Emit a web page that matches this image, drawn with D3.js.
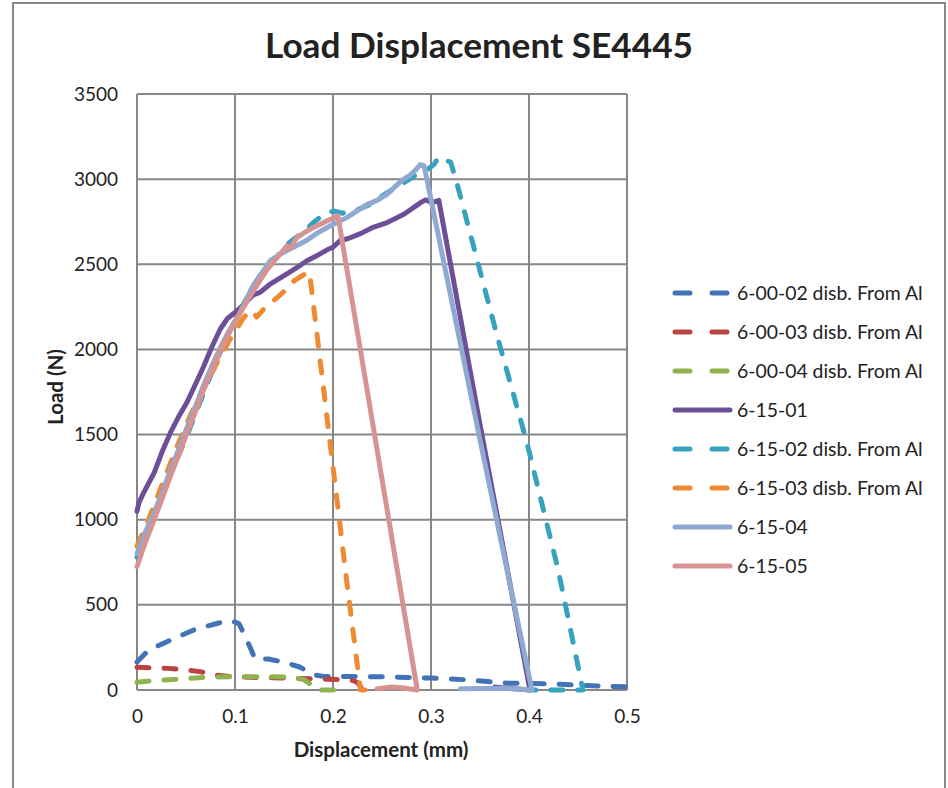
<!DOCTYPE html>
<html>
<head>
<meta charset="utf-8">
<script src="https://cdn.jsdelivr.net/npm/d3@7"></script>
<style>
  html, body { margin: 0; padding: 0; background: #ffffff; }
  svg { display: block; }
  text { font-family: Lato, "Open Sans", sans-serif; fill: #222; }
</style>
</head>
<body>
<svg id="chart" width="948" height="788"></svg>
<script>
// Load–displacement traces, [displacement (mm), load (N)]
const s600_02 = [[0,165],[0.012,235],[0.03,282],[0.06,358],[0.088,400],[0.097,405],[0.104,390],[0.11,320],[0.117,230],[0.12,185],[0.134,182],[0.151,162],[0.166,135],[0.18,90],[0.19,80],[0.25,78],[0.3,70],[0.34,59],[0.373,41],[0.424,35],[0.475,23],[0.5,18]];
const s600_03 = [[0,133],[0.015,130],[0.032,127],[0.05,118],[0.064,108],[0.08,88],[0.098,78],[0.125,73],[0.159,69],[0.195,63],[0.215,60],[0.221,55],[0.226,39],[0.229,10],[0.232,0]];
const s600_04 = [[0,45],[0.01,52],[0.025,58],[0.045,64],[0.07,75],[0.1,78],[0.14,78],[0.16,74],[0.17,62],[0.176,39],[0.18,10],[0.183,0],[0.21,0]];
const s615_01 = [[0,1050],[0.002,1100],[0.006,1150],[0.0175,1275],[0.025,1390],[0.034,1510],[0.042,1600],[0.051,1690],[0.06,1800],[0.068,1900],[0.076,2010],[0.085,2120],[0.092,2180],[0.1017,2225],[0.11,2270],[0.1185,2320],[0.1256,2335],[0.135,2380],[0.153,2444],[0.163,2480],[0.1734,2521],[0.185,2555],[0.194,2585],[0.2,2600],[0.2075,2640],[0.215,2650],[0.228,2680],[0.24,2715],[0.2553,2745],[0.2724,2794],[0.2894,2862],[0.2945,2878],[0.3014,2862],[0.308,2875],[0.35,1560],[0.401,0],[0.378,10],[0.365,18]];
const s615_02 = [[0,780],[0.01,920],[0.02,1060],[0.035,1280],[0.05,1480],[0.065,1700],[0.08,1920],[0.095,2110],[0.11,2280],[0.125,2430],[0.137,2510],[0.1427,2541],[0.1495,2599],[0.16,2648],[0.17,2690],[0.18,2745],[0.19,2790],[0.2007,2813],[0.21,2800],[0.221,2810],[0.238,2852],[0.255,2920],[0.272,2979],[0.283,3018],[0.29,3040],[0.297,3060],[0.303,3086],[0.308,3130],[0.315,3110],[0.32,3100],[0.3265,2975],[0.367,2090],[0.398,1450],[0.43,700],[0.455,0],[0.4,0]];
const s615_03 = [[0,845],[0.01,975],[0.0276,1235],[0.04,1420],[0.055,1620],[0.07,1790],[0.085,1960],[0.095,2060],[0.1017,2120],[0.108,2180],[0.115,2228],[0.119,2220],[0.122,2190],[0.126,2215],[0.132,2255],[0.14,2290],[0.149,2335],[0.157,2390],[0.165,2420],[0.1734,2450],[0.176,2455],[0.214,640],[0.228,0],[0.245,2]];
const s615_04 = [[0,800],[0.008,920],[0.0175,1040],[0.026,1165],[0.034,1290],[0.043,1420],[0.051,1540],[0.06,1670],[0.068,1790],[0.077,1910],[0.085,2010],[0.093,2100],[0.1017,2180],[0.11,2270],[0.117,2360],[0.122,2405],[0.13,2470],[0.136,2521],[0.145,2555],[0.153,2580],[0.163,2610],[0.173,2640],[0.183,2680],[0.194,2716],[0.204,2745],[0.214,2774],[0.225,2815],[0.235,2852],[0.245,2875],[0.255,2910],[0.265,2965],[0.272,3000],[0.278,3020],[0.283,3045],[0.289,3086],[0.293,3078],[0.35,1470],[0.403,0],[0.374,10],[0.33,8]];
const s615_05 = [[0,725],[0.008,860],[0.0175,1000],[0.026,1130],[0.034,1255],[0.043,1385],[0.051,1510],[0.06,1640],[0.068,1765],[0.077,1885],[0.085,1990],[0.095,2110],[0.105,2210],[0.112,2280],[0.119,2346],[0.126,2410],[0.132,2463],[0.14,2520],[0.146,2560],[0.153,2609],[0.156,2590],[0.16,2630],[0.163,2657],[0.172,2690],[0.18,2716],[0.187,2735],[0.194,2755],[0.2,2770],[0.205,2785],[0.228,1996],[0.286,0],[0.272,12],[0.26,18],[0.245,8]];

const seriesNames = ["6-00-02 disb. From Al","6-00-03 disb. From Al","6-00-04 disb. From Al","6-15-01","6-15-02 disb. From Al","6-15-03 disb. From Al","6-15-04","6-15-05"];
const seriesData = [s600_02, s600_03, s600_04, s615_01, s615_02, s615_03, s615_04, s615_05];
const seriesColors = ["#4373B6","#B94441","#8FB44F","#6C4F96","#37A2BD","#EE8A31","#8FA9D2","#D69392"];
const seriesDashed = [true, true, true, false, true, true, false, false];

const xTicks = [0, 0.1, 0.2, 0.3, 0.4, 0.5];
const yTicks = [0, 500, 1000, 1500, 2000, 2500, 3000, 3500];

const svg = d3.select("#chart");
const gridColor = "#878787";

// chart frame
svg.append("rect")
  .attr("x", 13).attr("y", 3).attr("width", 932).attr("height", 810)
  .attr("fill", "#fff").attr("stroke", gridColor).attr("stroke-width", 2);

const x = d3.scaleLinear().domain([0, 0.5]).range([137, 627]);
const y = d3.scaleLinear().domain([0, 3500]).range([690, 94]);

// gridlines
const grid = svg.append("g");
grid.selectAll("line.v").data(xTicks).join("line")
  .attr("x1", d => x(d)).attr("x2", d => x(d))
  .attr("y1", y(0)).attr("y2", y(3500))
  .attr("stroke", gridColor).attr("stroke-width", 2);
grid.selectAll("line.h").data(yTicks).join("line")
  .attr("x1", x(0)).attr("x2", x(0.5))
  .attr("y1", d => y(d)).attr("y2", d => y(d))
  .attr("stroke", gridColor).attr("stroke-width", 2);

// axes (labels only)
const xAxis = d3.axisBottom(x).tickValues(xTicks).tickSize(0).tickPadding(20).tickFormat(d => d3.format("")(d));
const yAxis = d3.axisLeft(y).tickValues(yTicks).tickSize(0).tickPadding(19).tickFormat(d3.format(""));
const gx = svg.append("g").attr("transform", `translate(0,${y(0)})`).call(xAxis);
const gy = svg.append("g").attr("transform", `translate(${x(0)},0)`).call(yAxis);
[gx, gy].forEach(g => {
  g.select(".domain").remove();
  g.selectAll("text").attr("font-family", "Lato, sans-serif").attr("font-size", 19).attr("fill", "#222");
});

// series lines
const line = d3.line().x(d => x(d[0])).y(d => y(d[1]));
const plot = svg.append("g");
seriesData.forEach((data, i) => {
  plot.append("path")
    .attr("d", line(data))
    .attr("fill", "none")
    .attr("stroke", seriesColors[i])
    .attr("stroke-width", 5)
    .attr("stroke-linejoin", "round")
    .attr("stroke-linecap", "round")
    .attr("stroke-dasharray", seriesDashed[i] ? "12,15" : null);
});

// title
svg.append("text")
  .attr("x", 479).attr("y", 58)
  .attr("text-anchor", "middle")
  .attr("font-size", 35).attr("font-weight", "bold").attr("fill", "#000")
  .attr("textLength", 428).attr("lengthAdjust", "spacingAndGlyphs")
  .text("Load Displacement SE4445");

// axis titles
svg.append("text")
  .attr("x", 381).attr("y", 757)
  .attr("text-anchor", "middle")
  .attr("font-size", 20.5).attr("font-weight", "bold").attr("fill", "#000")
  .text("Displacement (mm)");
svg.append("text")
  .attr("transform", "translate(63,387) rotate(-90)")
  .attr("text-anchor", "middle")
  .attr("font-size", 20.5).attr("font-weight", "bold").attr("fill", "#000")
  .text("Load (N)");

// legend
const legend = svg.append("g");
const legendY0 = 293, legendStep = 39.0;
seriesNames.forEach((name, i) => {
  const ly = legendY0 + i * legendStep;
  legend.append("line")
    .attr("x1", 675).attr("x2", 730).attr("y1", ly).attr("y2", ly)
    .attr("stroke", seriesColors[i]).attr("stroke-width", 5)
    .attr("stroke-linecap", "round")
    .attr("stroke-dasharray", seriesDashed[i] ? "15,22" : null);
  legend.append("text")
    .attr("x", 737).attr("y", ly).attr("dy", "0.35em")
    .attr("font-size", 19.4).attr("fill", "#222")
    .text(name);
});
</script>
</body>
</html>
